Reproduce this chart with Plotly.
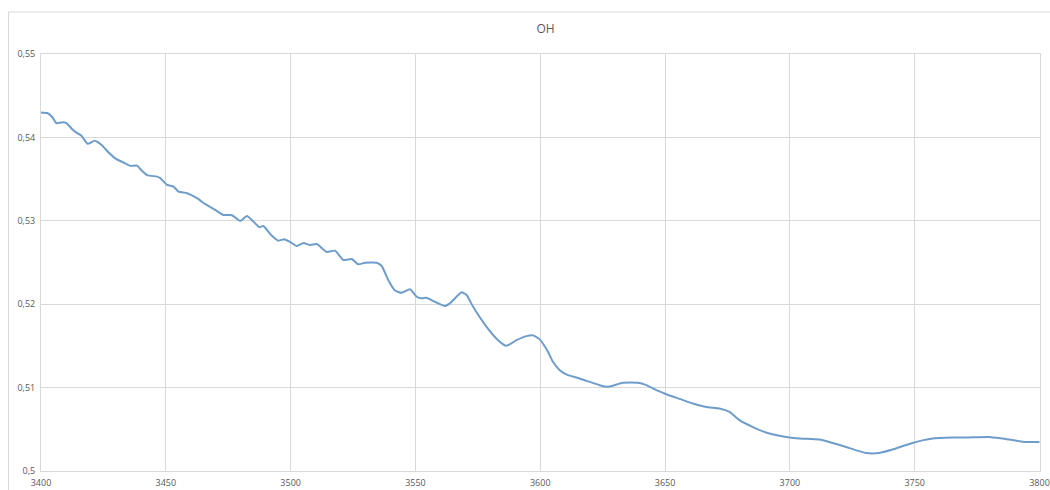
import plotly.graph_objects as go

# Wavenumber (cm-1) and absorbance of the OH band
wavenumber = [
    3400.0, 3402.5, 3404.5, 3406.2, 3409.1, 3410.2, 3412.5, 3414.5, 3416.1, 3418.7,
    3421.5, 3424.5, 3427.1, 3430.2, 3433.1, 3435.8, 3438.5, 3439.8, 3442.5, 3446.5,
    3447.8, 3450.5, 3453.1, 3455.1, 3458.5, 3462.5, 3465.8, 3469.8, 3473.1, 3476.5,
    3479.8, 3482.5, 3485.1, 3487.5, 3489.1, 3491.8, 3495.1, 3497.4, 3499.8, 3502.5,
    3505.1, 3507.8, 3510.5, 3514.5, 3517.8, 3521.1, 3524.5, 3527.1, 3529.8, 3534.5,
    3536.5, 3539.1, 3541.8, 3544.5, 3547.8, 3550.5, 3552.5, 3554.5, 3557.1, 3561.8,
    3563.8, 3568.5, 3570.5, 3573.1, 3578.5, 3583.1, 3586.5, 3590.5, 3594.5, 3597.1,
    3599.8, 3603.1, 3605.1, 3607.8, 3611.1, 3614.5, 3618.5, 3623.8, 3627.1, 3633.1,
    3639.1, 3642.5, 3646.5, 3650.5, 3655.8, 3661.1, 3666.5, 3671.8, 3675.8, 3679.8,
    3686.5, 3691.8, 3699.8, 3703.8, 3711.8, 3715.8, 3722.5, 3730.5, 3735.8, 3741.1,
    3749.1, 3757.1, 3765.1, 3770.5, 3779.8, 3785.1, 3794.5, 3800.0,
]
absorbance = [
    0.54300, 0.54292, 0.54244, 0.54171, 0.54183, 0.54171, 0.54099, 0.54051, 0.54023, 0.53923,
    0.53959, 0.53902, 0.53818, 0.53739, 0.53698, 0.53659, 0.53662, 0.53619, 0.53547, 0.53530,
    0.53511, 0.53431, 0.53410, 0.53350, 0.53331, 0.53271, 0.53199, 0.53130, 0.53070, 0.53067,
    0.52998, 0.53058, 0.52990, 0.52923, 0.52938, 0.52842, 0.52762, 0.52779, 0.52746, 0.52698,
    0.52734, 0.52710, 0.52722, 0.52626, 0.52642, 0.52530, 0.52542, 0.52478, 0.52498, 0.52498,
    0.52458, 0.52290, 0.52164, 0.52137, 0.52178, 0.52089, 0.52070, 0.52077, 0.52038, 0.51978,
    0.52010, 0.52142, 0.52110, 0.51969, 0.51729, 0.51569, 0.51501, 0.51569, 0.51617, 0.51626,
    0.51578, 0.51429, 0.51309, 0.51209, 0.51149, 0.51122, 0.51081, 0.51029, 0.51009, 0.51057,
    0.51057, 0.51029, 0.50969, 0.50921, 0.50865, 0.50809, 0.50768, 0.50749, 0.50708, 0.50609,
    0.50509, 0.50449, 0.50401, 0.50389, 0.50377, 0.50348, 0.50288, 0.50216, 0.50216, 0.50257,
    0.50336, 0.50389, 0.50401, 0.50401, 0.50408, 0.50389, 0.50348, 0.50348,
]

x_ticks = [3400, 3450, 3500, 3550, 3600, 3650, 3700, 3750, 3800]
y_ticks = [0.50, 0.51, 0.52, 0.53, 0.54, 0.55]
y_tick_text = ["0,5", "0,51", "0,52", "0,53", "0,54", "0,55"]

GRID = "#D9D9D9"
TEXT = "#595959"

fig = go.Figure(
    go.Scatter(
        x=wavenumber,
        y=absorbance,
        mode="lines",
        line=dict(color="#6E9DCB", width=2, shape="spline", smoothing=0.5),
        hoverinfo="x+y",
    )
)

fig.update_layout(
    width=1050,
    height=490,
    margin=dict(l=41, r=10, t=54, b=19),
    paper_bgcolor="#FFFFFF",
    plot_bgcolor="#FFFFFF",
    showlegend=False,
    font=dict(family="Open Sans, Liberation Sans, sans-serif", size=9, color=TEXT),
    title=dict(
        text="OH",
        x=0.505,
        xref="paper",
        xanchor="center",
        y=1 - 29 / 490,
        yanchor="middle",
        font=dict(size=12, color=TEXT),
    ),
    shapes=[
        # outer chart frame
        dict(
            type="rect", xref="paper", yref="paper",
            x0=-32.5 / 999, x1=1.02, y0=-0.2, y1=1 + 42 / 417,
            line=dict(color="#D9D9D9", width=1), layer="below",
        )
    ],
)

fig.update_xaxes(
    range=[3400, 3800.2],
    tickvals=x_ticks,
    ticktext=[str(v) for v in x_ticks],
    showgrid=True,
    gridcolor=GRID,
    gridwidth=1,
    zeroline=False,
    showline=True,
    linecolor=GRID,
    linewidth=1,
    mirror=True,
    ticks="",
    ticklabelstandoff=3,
    tickfont=dict(size=9, color=TEXT),
    automargin=False,
)
fig.update_yaxes(
    range=[0.5, 0.55],
    tickvals=y_ticks,
    ticktext=y_tick_text,
    showgrid=True,
    gridcolor=GRID,
    gridwidth=1,
    zeroline=False,
    showline=True,
    linecolor=GRID,
    linewidth=1,
    mirror=True,
    ticks="",
    ticklabelstandoff=3,
    tickfont=dict(size=9, color=TEXT),
    automargin=False,
)

fig.write_html("out.html")
